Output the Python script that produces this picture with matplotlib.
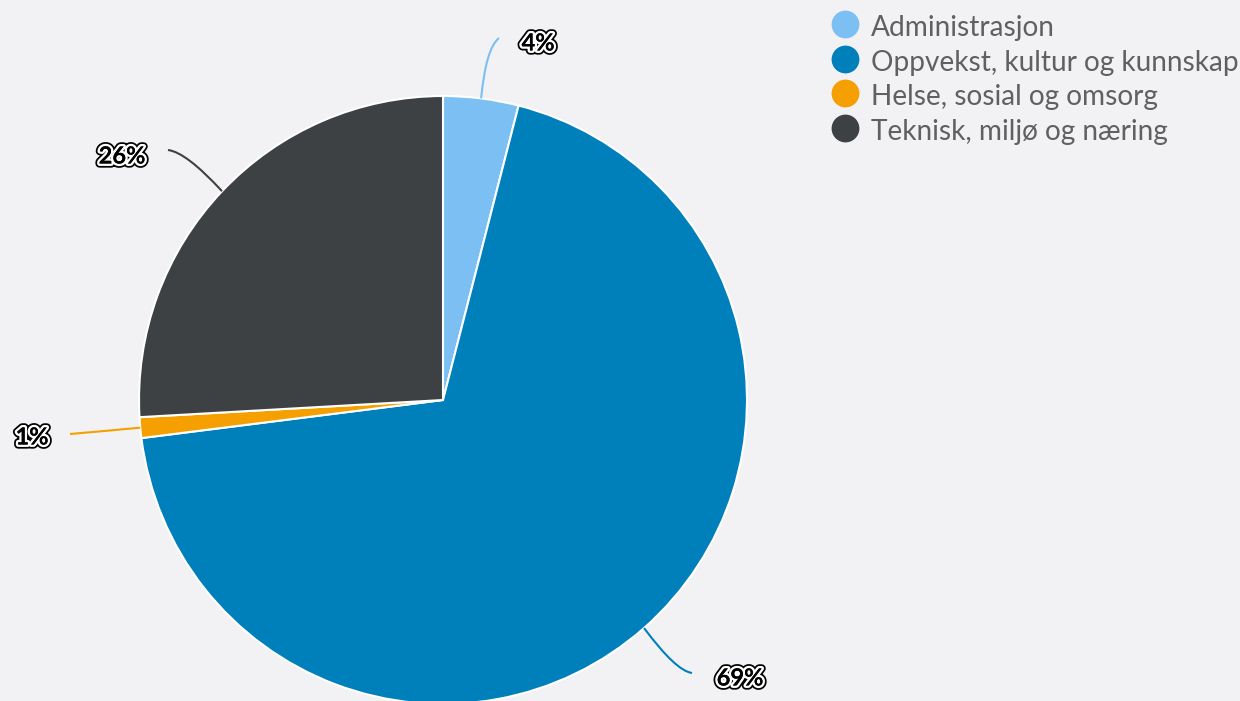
import matplotlib
matplotlib.use("Agg")
import matplotlib.pyplot as plt
import matplotlib.patheffects as pe
from matplotlib.path import Path
from matplotlib.patches import PathPatch
import numpy as np

categories = ["Administrasjon", "Oppvekst, kultur og kunnskap", "Helse, sosial og omsorg", "Teknisk, miljø og næring"]
values = [4.0, 69.0, 1.1, 25.9]
labels = ["4%", "69%", "1%", "26%"]
colors = ["#7cc0f3", "#0080bb", "#f5a000", "#3e4144"]

BG = "#f2f2f4"
W, H = 1240, 701
fig = plt.figure(figsize=(W / 100, H / 100), dpi=100, facecolor=BG)
ax = fig.add_axes([0, 0, 1, 1])
ax.set_facecolor(BG)

cx, cy, R = 443, H - 400, 304
wedges, _ = ax.pie(values, colors=colors, startangle=90, counterclock=False,
                   center=(cx, cy), radius=R, frame=True,
                   wedgeprops=dict(edgecolor="white", linewidth=1.5))
ax.set_xlim(0, W)
ax.set_ylim(0, H)
ax.set_aspect("equal")
ax.axis("off")

# label positions (pixels, top-left origin) and connector control/end points
label_pos = [(538, 43), (740, 678), (32, 437), (122, 156)]
conn_end = [(499, 38), (692, 673), (70, 434), (168, 150)]
conn_ctrl = [(486, 48), (676, 671), (105, 431), (186, 152)]

for w, col, lab, lp, ce, cc in zip(wedges, colors, labels, label_pos, conn_end, conn_ctrl):
    mid = np.deg2rad((w.theta1 + w.theta2) / 2)
    ax_ = cx + R * np.cos(mid)
    ay_ = cy + R * np.sin(mid)
    verts = [(ax_, ay_), (cc[0], H - cc[1]), (ce[0], H - ce[1])]
    path = Path(verts, [Path.MOVETO, Path.CURVE3, Path.CURVE3])
    ax.add_patch(PathPatch(path, facecolor="none", edgecolor=col, lw=1.5))
    ax.text(lp[0], H - lp[1], lab, ha="center", va="center", fontsize=17,
            fontweight="bold", fontstyle="normal", family="Lato", color="black",
            path_effects=[pe.withStroke(linewidth=6, foreground="black"),
                          pe.withStroke(linewidth=3.5, foreground="white"),
                          pe.Normal()])

# legend
for i, (cat, col) in enumerate(zip(categories, colors)):
    y = 24 + i * 34.7
    ax.scatter([845], [H - y], s=27 ** 2 * 0.55, color=col, zorder=5, linewidths=0)
    ax.text(871, H - (y + 12), cat, ha="left", va="baseline", fontsize=20.2,
            family="Lato", color="#606060", clip_on=False)

fig.savefig("out.png", dpi=100, facecolor=BG)
